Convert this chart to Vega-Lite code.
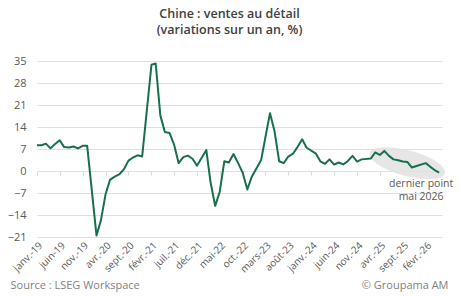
{
  "$schema": "https://vega.github.io/schema/vega-lite/v6.json",
  "width": 405,
  "height": 176,
  "autosize": {"type": "none"},
  "padding": {"left": 37, "top": 61, "right": 18, "bottom": 60},
  "background": "white",
  "title": {
    "text": ["Chine : ventes au détail", "(variations  sur un an, %)"],
    "font": "Open Sans",
    "fontSize": 12.5,
    "fontWeight": 600,
    "color": "#404040",
    "anchor": "middle",
    "frame": "group",
    "dx": -10,
    "offset": 19,
    "lineHeight": 16
  },
  "config": {
    "view": {"stroke": null},
    "font": "Open Sans",
    "axisY": {"labelOverlap": false}
  },
  "datasets": {
    "ventes": [
      {"date": "2019-01", "value": 8.2}, {"date": "2019-02", "value": 8.2}, {"date": "2019-03", "value": 8.7},
      {"date": "2019-04", "value": 7.2}, {"date": "2019-05", "value": 8.6}, {"date": "2019-06", "value": 9.8},
      {"date": "2019-07", "value": 7.6}, {"date": "2019-08", "value": 7.5}, {"date": "2019-09", "value": 7.8},
      {"date": "2019-10", "value": 7.2}, {"date": "2019-11", "value": 8.0}, {"date": "2019-12", "value": 8.0},
      {"date": "2020-02", "value": -20.5}, {"date": "2020-03", "value": -15.8}, {"date": "2020-04", "value": -7.5},
      {"date": "2020-05", "value": -2.8}, {"date": "2020-06", "value": -1.8}, {"date": "2020-07", "value": -1.1},
      {"date": "2020-08", "value": 0.5}, {"date": "2020-09", "value": 3.3}, {"date": "2020-10", "value": 4.3},
      {"date": "2020-11", "value": 5.0}, {"date": "2020-12", "value": 4.6},
      {"date": "2021-02", "value": 33.8}, {"date": "2021-03", "value": 34.2}, {"date": "2021-04", "value": 17.7},
      {"date": "2021-05", "value": 12.4}, {"date": "2021-06", "value": 12.1}, {"date": "2021-07", "value": 8.5},
      {"date": "2021-08", "value": 2.5}, {"date": "2021-09", "value": 4.4}, {"date": "2021-10", "value": 4.9},
      {"date": "2021-11", "value": 3.9}, {"date": "2021-12", "value": 1.7},
      {"date": "2022-02", "value": 6.7}, {"date": "2022-03", "value": -3.5}, {"date": "2022-04", "value": -11.1},
      {"date": "2022-05", "value": -6.7}, {"date": "2022-06", "value": 3.1}, {"date": "2022-07", "value": 2.7},
      {"date": "2022-08", "value": 5.4}, {"date": "2022-09", "value": 2.5}, {"date": "2022-10", "value": -0.5},
      {"date": "2022-11", "value": -5.9}, {"date": "2022-12", "value": -1.8},
      {"date": "2023-02", "value": 3.5}, {"date": "2023-03", "value": 10.6}, {"date": "2023-04", "value": 18.4},
      {"date": "2023-05", "value": 12.7}, {"date": "2023-06", "value": 3.1}, {"date": "2023-07", "value": 2.5},
      {"date": "2023-08", "value": 4.6}, {"date": "2023-09", "value": 5.5}, {"date": "2023-10", "value": 7.6},
      {"date": "2023-11", "value": 10.1}, {"date": "2023-12", "value": 7.4},
      {"date": "2024-02", "value": 5.5}, {"date": "2024-03", "value": 3.1}, {"date": "2024-04", "value": 2.3},
      {"date": "2024-05", "value": 3.7}, {"date": "2024-06", "value": 2.0}, {"date": "2024-07", "value": 2.7},
      {"date": "2024-08", "value": 2.1}, {"date": "2024-09", "value": 3.2}, {"date": "2024-10", "value": 4.8},
      {"date": "2024-11", "value": 3.0}, {"date": "2024-12", "value": 3.7},
      {"date": "2025-02", "value": 4.0}, {"date": "2025-03", "value": 5.9}, {"date": "2025-04", "value": 5.1},
      {"date": "2025-05", "value": 6.4}, {"date": "2025-06", "value": 4.8}, {"date": "2025-07", "value": 3.7},
      {"date": "2025-08", "value": 3.4}, {"date": "2025-09", "value": 3.0}, {"date": "2025-10", "value": 2.9},
      {"date": "2025-11", "value": 1.1}, {"date": "2025-12", "value": 1.6},
      {"date": "2026-02", "value": 2.5}, {"date": "2026-03", "value": 1.4}, {"date": "2026-04", "value": 0.3},
      {"date": "2026-05", "value": -0.5}
    ],
    "zone": [{"date": "2025-10", "value": 2.5}],
    "note": [{"date": "2026-01", "value": -2.6, "label": "dernier point\nmai 2026"}]
  },
  "layer": [
    {
      "data": {"name": "zone", "format": {"parse": {"date": "date:'%Y-%m'"}}},
      "mark": {
        "type": "point",
        "shape": "M -1 0 A 1 0.33 0 1 1 1 0 A 1 0.33 0 1 1 -1 0 Z",
        "size": 6084,
        "angle": 15,
        "filled": true,
        "color": "#e2e2e2",
        "opacity": 0.85,
        "strokeWidth": 0
      },
      "encoding": {
        "x": {
          "field": "date",
          "type": "temporal",
          "scale": {"domain": [{"year": 2019, "month": 1, "date": 1}, {"year": 2026, "month": 5, "date": 20}]},
          "axis": {
            "orient": "bottom",
            "offset": -66,
            "tickCount": 30,
            "values": [
              {"year": 2019, "month": 1, "date": 1}, {"year": 2019, "month": 6, "date": 1}, {"year": 2019, "month": 11, "date": 1},
              {"year": 2020, "month": 4, "date": 1}, {"year": 2020, "month": 9, "date": 1}, {"year": 2021, "month": 2, "date": 1},
              {"year": 2021, "month": 7, "date": 1}, {"year": 2021, "month": 12, "date": 1}, {"year": 2022, "month": 5, "date": 1},
              {"year": 2022, "month": 10, "date": 1}, {"year": 2023, "month": 3, "date": 1}, {"year": 2023, "month": 8, "date": 1},
              {"year": 2024, "month": 1, "date": 1}, {"year": 2024, "month": 6, "date": 1}, {"year": 2024, "month": 11, "date": 1},
              {"year": 2025, "month": 4, "date": 1}, {"year": 2025, "month": 9, "date": 1}, {"year": 2026, "month": 2, "date": 1}
            ],
            "labels": false,
            "ticks": true,
            "tickSize": 4,
            "tickColor": "#cfe0dc",
            "domain": false,
            "grid": false,
            "title": "© Groupama AM",
            "titleX": 411,
            "titleY": 117,
            "titleAlign": "right",
            "titleBaseline": "alphabetic",
            "titleFont": "Open Sans",
            "titleFontSize": 11,
            "titleFontWeight": "normal",
            "titleColor": "#7f7f7f"
          }
        },
        "y": {"field": "value", "type": "quantitative"}
      }
    },
    {
      "data": {"name": "ventes", "format": {"parse": {"date": "date:'%Y-%m'"}}},
      "mark": {"type": "line", "color": "#17704b", "strokeWidth": 2, "strokeJoin": "round"},
      "encoding": {
        "x": {
          "field": "date",
          "type": "temporal",
          "scale": {"domain": [{"year": 2019, "month": 1, "date": 1}, {"year": 2026, "month": 5, "date": 20}]},
          "axis": {
            "orient": "bottom",
            "tickCount": 30,
            "values": [
              {"year": 2019, "month": 1, "date": 1}, {"year": 2019, "month": 6, "date": 1}, {"year": 2019, "month": 11, "date": 1},
              {"year": 2020, "month": 4, "date": 1}, {"year": 2020, "month": 9, "date": 1}, {"year": 2021, "month": 2, "date": 1},
              {"year": 2021, "month": 7, "date": 1}, {"year": 2021, "month": 12, "date": 1}, {"year": 2022, "month": 5, "date": 1},
              {"year": 2022, "month": 10, "date": 1}, {"year": 2023, "month": 3, "date": 1}, {"year": 2023, "month": 8, "date": 1},
              {"year": 2024, "month": 1, "date": 1}, {"year": 2024, "month": 6, "date": 1}, {"year": 2024, "month": 11, "date": 1},
              {"year": 2025, "month": 4, "date": 1}, {"year": 2025, "month": 9, "date": 1}, {"year": 2026, "month": 2, "date": 1}
            ],
            "labelExpr": "['janv.','févr.','mars','avr.','mai','juin','juil.','août','sept.','oct.','nov.','déc.'][month(datum.value)] + '-' + timeFormat(datum.value, '%y')",
            "labelAngle": -45,
            "labelAlign": "right",
            "labelBaseline": "top",
            "labelPadding": 3,
            "labelFont": "Open Sans",
            "labelFontSize": 10,
            "labelColor": "#595959",
            "labelOverlap": false,
            "labelFlush": false,
            "ticks": false,
            "domain": false,
            "grid": false,
            "title": "Source : LSEG Workspace",
            "titleX": -27,
            "titleY": 51,
            "titleAlign": "left",
            "titleBaseline": "alphabetic",
            "titleFont": "Open Sans",
            "titleFontSize": 11,
            "titleFontWeight": "normal",
            "titleColor": "#7f7f7f"
          }
        },
        "y": {
          "field": "value",
          "type": "quantitative",
          "scale": {"domain": [-21, 35], "nice": false, "zero": false},
          "axis": {
            "values": [-21, -14, -7, 0, 7, 14, 21, 28, 35],
            "tickCount": 20,
            "title": null,
            "domain": false,
            "ticks": false,
            "grid": true,
            "gridColor": "#d3e5e1",
            "gridWidth": 1,
            "labelOverlap": false,
            "labelFont": "Open Sans",
            "labelFontSize": 11,
            "labelColor": "#595959",
            "labelPadding": 11
          }
        }
      }
    },
    {
      "data": {"name": "note", "format": {"parse": {"date": "date:'%Y-%m'"}}},
      "mark": {
        "type": "text",
        "align": "center",
        "baseline": "top",
        "lineBreak": "\n",
        "lineHeight": 13,
        "font": "Open Sans",
        "fontSize": 10.5,
        "color": "#595959"
      },
      "encoding": {
        "x": {"field": "date", "type": "temporal", "axis": null},
        "y": {"field": "value", "type": "quantitative"},
        "text": {"field": "label"}
      }
    }
  ],
  "resolve": {"axis": {"x": "independent"}}
}
